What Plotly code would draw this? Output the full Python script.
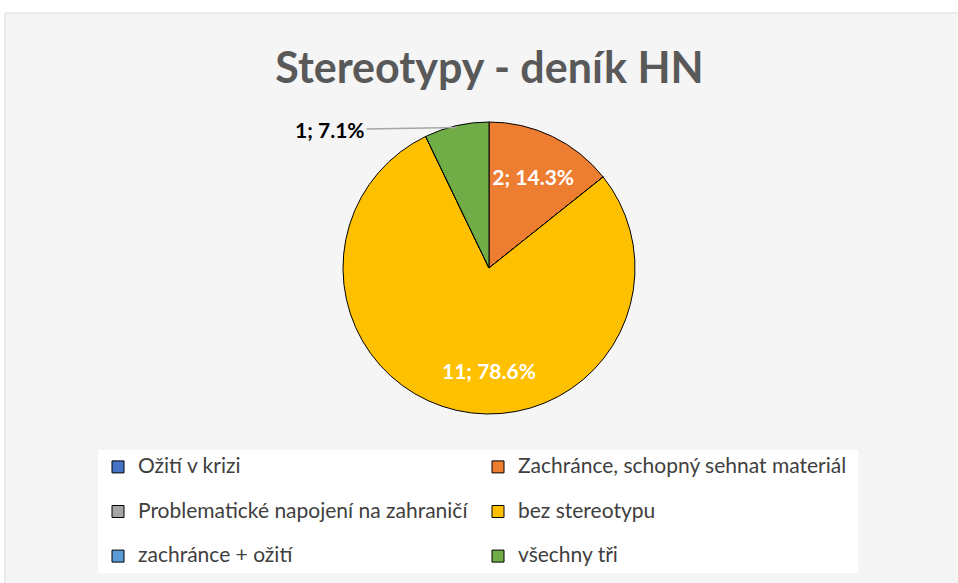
import plotly.graph_objects as go
import math

title_text = "Stereotypy - deník HN"
labels = ["Ožití v krizi", "Zachránce, schopný sehnat materiál",
          "Problematické napojení na zahraničí", "bez stereotypu",
          "zachránce + ožití", "všechny tři"]
values = [0, 2, 0, 11, 0, 1]
colors = ["#4472C4", "#ED7D31", "#A5A5A5", "#FFC000", "#5B9BD5", "#70AD47"]

W, H = 958, 583
FONT = "Lato"

# pie geometry (px)
cx, cy, R = 489, 268, 144
Rd = R + 2
dom_x = [(cx - 300) / W, (cx + 300) / W]
dom_y = [(H - cy - Rd) / H, (H - cy + Rd) / H]

total = sum(values)
share = [v / total for v in values]
# mid-size slices use plotly's own inside text
tmpl = ["%{value}; %{percent:.1%}" if 0.1 < s < 0.5 else "" for s in share]

# two legend columns; extra blank line gives Excel-like row spacing
n = len(labels)
legend_labels = []
for i, l in enumerate(labels):
    t = "<span style='font-size:21px'>%s</span>" % l
    if i < n - 2:
        t += "<br> "
    legend_labels.append(t)

fig = go.Figure()
fig.add_trace(go.Pie(
    labels=legend_labels,
    values=values,
    customdata=labels,
    sort=False,
    direction="clockwise",
    rotation=0,
    marker=dict(colors=colors, line=dict(color="#000000", width=1)),
    texttemplate=tmpl,
    textposition="inside",
    insidetextorientation="horizontal",
    textfont=dict(family=FONT, size=21, color="white", weight="bold"),
    hovertemplate="%{customdata}: %{value} (%{percent})<extra></extra>",
    domain=dict(x=dom_x, y=dom_y),
))

annotations = []
cum = 0
for i, v in enumerate(values):
    s = v / total
    if v > 0 and s <= 0.1:
        # small slice: outside label with leader line from slice edge
        ang = 2 * math.pi * (cum + v / 2) / total
        px = cx + R * math.sin(ang)
        py = cy - R * math.cos(ang)
        annotations.append(dict(
            x=px / W, y=1 - py / H, xref="paper", yref="paper",
            text="<b>%d; %.1f%%</b>" % (v, 100 * s),
            showarrow=True, arrowhead=0, arrowwidth=1.5, arrowcolor="#A6A6A6",
            ax=-(px - 330), ay=2, xanchor="center",
            font=dict(family=FONT, size=21, color="#000000"),
        ))
    elif s >= 0.5:
        # dominant slice: label placed below centre (best-fit style)
        annotations.append(dict(
            x=cx / W, y=1 - (cy + 0.715 * R) / H, xref="paper", yref="paper",
            text="<b>%d; %.1f%%</b>" % (v, 100 * s), showarrow=False,
            font=dict(family=FONT, size=21, color="white"),
        ))
    cum += v

fig.update_layout(
    width=W, height=H,
    margin=dict(l=0, r=0, t=0, b=0),
    paper_bgcolor="white",
    plot_bgcolor="white",
    title=dict(text="<b>" + title_text + "</b>", x=489.5 / W, xanchor="center",
               y=1 - 68 / H, yanchor="middle",
               font=dict(family=FONT, size=43, color="#595959")),
    showlegend=True,
    legend=dict(orientation="h", x=98 / W, xanchor="left", y=1 - 450 / H, yanchor="top",
                entrywidth=335, entrywidthmode="pixels", valign="top",
                bgcolor="white", font=dict(family=FONT, size=16, color="#404040"),
                traceorder="normal"),
    shapes=[dict(type="rect", xref="paper", yref="paper", x0=5 / W, x1=1.01,
                 y0=-0.01, y1=1 - 13 / H, fillcolor="#f5f5f5",
                 line=dict(color="#d9d9d9", width=1), layer="below")],
    annotations=annotations,
)

fig.write_html("out.html", config={"displayModeBar": False},
               post_script="document.body.style.margin='0';")
